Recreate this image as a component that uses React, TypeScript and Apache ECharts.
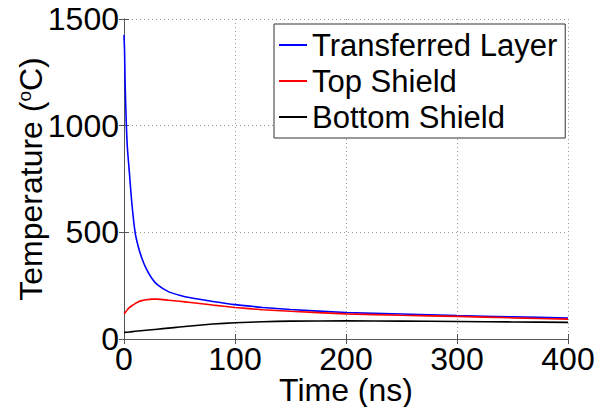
import React, { useEffect, useRef } from 'react';
import * as echarts from 'echarts';

const timeNs = [0, 0.5, 1, 2, 3, 5, 7, 10, 13, 16, 20, 25, 30, 40, 50, 60, 80, 100, 125, 150, 200, 250, 300, 350, 400];
const transferredLayer = [1425, 1350, 1200, 1020, 900, 770, 640, 500, 430, 380, 330, 285, 255, 222, 205, 193, 176, 161, 148, 138, 124, 117, 110, 104, 98];
const topShield = [118, 120, 123, 130, 137, 148, 156, 166, 175, 180, 184, 187, 187, 182, 177, 171, 159, 148, 137, 130, 118, 111, 106, 99, 93];
const bottomTimeNs = [0, 5, 10, 20, 30, 40, 50, 60, 80, 100, 125, 150, 200, 250, 300, 350, 400];
const bottomShield = [31, 33, 36, 41, 46, 51, 56, 61, 70, 76, 81, 84, 85, 84, 82, 80, 78];

const seriesNames = ['Transferred Layer', 'Top Shield', 'Bottom Shield'];
const seriesColors = ['#0000ff', '#ff0000', '#000000'];

const FONT = 'Arial, Liberation Sans, sans-serif';

export default function App() {
  const ref = useRef<HTMLDivElement>(null);
  useEffect(() => {
    const chart = echarts.init(ref.current!, null, { renderer: 'svg' });
    const pairs = (xs: number[], ys: number[]) => xs.map((x, i) => [x, ys[i]]);
    const axisLine = { show: true, lineStyle: { color: '#555', width: 1 } };
    const tick = { show: true, inside: true, length: 5, lineStyle: { color: '#555' } };
    const split = { show: true, lineStyle: { color: '#999', type: [1, 3] as any, width: 1 } };
    const fmt = (v: number) => String(v);
    chart.setOption({
      animation: false,
      backgroundColor: '#fff',
      textStyle: { fontFamily: FONT },
      grid: { left: 124, right: 36, top: 19, bottom: 68, containLabel: false, outerBoundsMode: 'none' },
      legend: {
        data: seriesNames,
        orient: 'vertical',
        left: 274,
        top: 24,
        padding: [5, 8, 5, 5],
        itemWidth: 28,
        itemHeight: 2,
        itemGap: 4,
        icon: 'rect',
        borderColor: '#333',
        borderWidth: 1,
        backgroundColor: '#fff',
        textStyle: { fontSize: 31, lineHeight: 32, color: '#000', fontFamily: FONT },
      },
      xAxis: [
        {
          type: 'value', min: 0, max: 400, interval: 100, position: 'bottom',
          axisLine, axisTick: tick, splitLine: split,
          axisLabel: { fontSize: 32, color: '#000', margin: 4, fontFamily: FONT, formatter: fmt },
          name: 'Time (ns)', nameLocation: 'middle', nameGap: 35, nameMoveOverlap: false,
          nameTextStyle: { fontSize: 32, color: '#000', fontFamily: FONT },
        },
        {
          type: 'value', min: 0, max: 400, interval: 100, position: 'top',
          axisLine, axisTick: tick, splitLine: { show: false }, axisLabel: { show: false },
        },
      ],
      yAxis: [
        {
          type: 'value', min: 0, max: 1500, interval: 500, position: 'left',
          axisLine, axisTick: tick, splitLine: split,
          axisLabel: { fontSize: 32, color: '#000', margin: 5, fontFamily: FONT, formatter: fmt },
          name: 'Temperature ({s|o}C)', nameLocation: 'middle', nameGap: 77, nameRotate: 90, nameMoveOverlap: false,
          nameTextStyle: {
            fontSize: 32, color: '#000', fontFamily: FONT,
            rich: { s: { fontSize: 19, color: '#000', fontFamily: FONT, verticalAlign: 'top', padding: [0, 0, 10, 0] } },
          },
        },
        {
          type: 'value', min: 0, max: 1500, interval: 500, position: 'right',
          axisLine, axisTick: tick, splitLine: { show: false }, axisLabel: { show: false },
        },
      ],
      series: [
        { name: seriesNames[0], type: 'line', data: pairs(timeNs, transferredLayer), showSymbol: false, smooth: 0.2, color: seriesColors[0], lineStyle: { width: 1.6 } },
        { name: seriesNames[1], type: 'line', data: pairs(timeNs, topShield), showSymbol: false, smooth: 0.2, color: seriesColors[1], lineStyle: { width: 1.6 } },
        { name: seriesNames[2], type: 'line', data: pairs(bottomTimeNs, bottomShield), showSymbol: false, smooth: 0.2, color: seriesColors[2], lineStyle: { width: 1.6 } },
      ],
    });
    return () => chart.dispose();
  }, []);
  return <div ref={ref} style={{ position: 'absolute', left: 0, top: 0, width: 604, height: 407 }} />;
}
